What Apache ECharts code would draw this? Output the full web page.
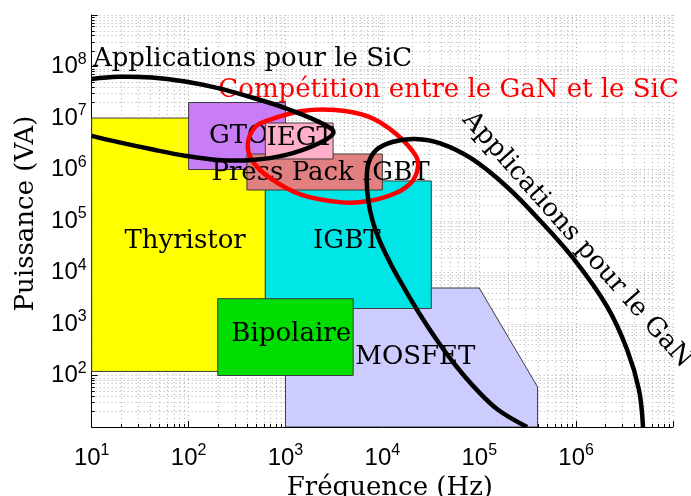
<!DOCTYPE html>
<html><head><meta charset="utf-8">
<script src="https://cdn.jsdelivr.net/npm/echarts@6/dist/echarts.min.js"></script>
<style>html,body{margin:0;padding:0;background:#fff}#c{width:691px;height:496px}</style>
</head><body><div id="c"></div>
<script>
// ---------- data ----------
const xTickExp = [1, 2, 3, 4, 5, 6];
const yTickExp = [2, 3, 4, 5, 6, 7, 8];

const deviceNames = ['Thyristor', 'MOSFET', 'IGBT', 'Bipolaire', 'GTO', 'Press Pack IGBT', 'IEGT'];
const thyristorArea = [[10, 120], [620, 120], [620, 1e7], [10, 1e7]];
const mosfetArea = [[1000, 10], [1000, 5000], [1e5, 5000], [4e5, 60], [4e5, 10]];
const igbtArea = [[620, 2000], [3.2e4, 2000], [3.2e4, 6e5], [620, 6e5]];
const bipolaireArea = [[200, 100], [5000, 100], [5000, 3100], [200, 3100]];
const gtoArea = [[100, 1e6], [1000, 1e6], [1000, 2e7], [100, 2e7]];
const pressPackArea = [[400, 4e5], [1e4, 4e5], [1e4, 2e6], [400, 2e6]];
const iegtArea = [[620, 1.6e6], [3100, 1.6e6], [3100, 8e6], [620, 8e6]];
const deviceAreas = [thyristorArea, mosfetArea, igbtArea, bipolaireArea, gtoArea, pressPackArea, iegtArea];
// label anchors (frequency, power)
const deviceLabelX = [92, 21900, 4300, 1146, 329, 2300, 1419];
const deviceLabelY = [4.13e4, 224, 3.96e4, 640, 4.34e6, 8.55e5, 4.09e6];

const annotationTexts = ['Applications pour le SiC', 'Compétition entre le GaN et le SiC', 'Applications pour le GaN'];
const annotationX = [10.3, 203, 1.02e6];
const annotationY = [1.37e8, 3.42e7, 4.28e4];

const sicCurve = [[10, 5.7e7], [18.7, 6.3e7], [41.7, 6.1e7], [92, 5.1e7], [202, 3.8e7], [450, 2.5e7], [993, 1.56e7],
  [2190, 8.5e6], [3130, 5.3e6], [2190, 3.2e6], [993, 1.9e6], [450, 1.53e6], [202, 1.53e6], [92, 1.85e6],
  [41.7, 2.47e6], [18.8, 3.4e6], [10, 4.5e6]];
const competitionCurve = [[3260, 1.43e7], [7200, 1.06e7], [13600, 5.05e6], [21900, 1.91e6], [23300, 1.13e6],
  [20200, 5.8e5], [13600, 3.45e5], [7200, 2.44e5], [3830, 2.3e5], [1476, 3.2e5], [667, 7.2e5], [450, 1.53e6],
  [409, 3.23e6], [486, 6.68e6], [667, 9.1e6], [1476, 1.37e7]];
const ganCurve = [[3.12e5, 10], [1.574e5, 21.4], [9.49e4, 52], [5.66e4, 160], [3.648e4, 489], [2.466e4, 1496],
  [1.726e4, 4570], [12360, 1.4e4], [9290, 4.28e4], [7870, 1.05e5],
  [7150, 2.56e5], [6900, 6.25e5], [7200, 1.34e6], [8650, 2.39e6], [12650, 3.42e6], [21900, 3.91e6],
  [39630, 3.2e6], [84300, 1.6e6], [1.94e5, 4.57e5], [4.28e5, 1.0e5], [9.45e5, 1.83e4], [2.09e6, 2170],
  [3.37e6, 313], [4.46e6, 52], [4.90e6, 10]];

// ---------- styles ----------
const deviceColors = ['#FFFF00', '#CCCCFF', '#00E6E6', '#00DD00', '#C87DF7', '#E08080', '#FFB0C8'];
const annotationColors = ['#000', '#FF0000', '#000'];
const annotationAlign = ['left', 'left', 'center'];
const annotationRot = [0, 0, -48.5];
const SERIF_FAMILY = 'DejaVu Serif';
const SERIF = '26px "DejaVu Serif"';
const GRID_COLOR = '#b4b4b4';
const gridLine = { type: [1, 3], color: GRID_COLOR, width: 1 };

// minor grid values (2..9 x 10^n)
const minorX = [], minorY = [];
for (let d = 1; d < 7; d++) for (let m = 2; m <= 9; m++) minorX.push(m * Math.pow(10, d));
for (let d = 1; d < 9; d++) for (let m = 2; m <= 9; m++) minorY.push(m * Math.pow(10, d));

const chart = echarts.init(document.getElementById('c'), null, { renderer: 'canvas' });

function tickFmt(list) {
  return function (v) {
    const e = Math.round(Math.log10(v));
    return list.indexOf(e) >= 0 ? '{b|10}{s|' + e + '}' : '';
  };
}
const tickRich = {
  b: { fontFamily: 'Liberation Sans', fontSize: 24, lineHeight: 30, color: '#000' },
  s: { fontFamily: 'Liberation Sans', fontSize: 16, lineHeight: 10, verticalAlign: 'top', color: '#000' }
};

function axisCommon() {
  return {
    type: 'log', logBase: 10,
    axisLine: { show: true, onZero: false, lineStyle: { color: '#000', width: 1 } },
    axisTick: { show: true, inside: true, length: 6, lineStyle: { color: '#000' } },
    minorTick: { show: false },
    splitLine: { show: true, lineStyle: gridLine },
    minorSplitLine: { show: false },
    nameLocation: 'middle'
  };
}

function curveSeries(points, color, closed, z) {
  return {
    type: 'custom', z: z, clip: true, silent: true,
    data: points, encode: { x: 0, y: 1 },
    renderItem: function (params, api) {
      if (params.dataIndex !== 0) return null;
      const pts = points.map(p => api.coord(p));
      return {
        type: closed ? 'polygon' : 'polyline',
        shape: { points: pts, smooth: 0.36 },
        style: { fill: closed ? 'none' : null, stroke: color, lineWidth: 4.5, lineJoin: 'round' }
      };
    }
  };
}

const option = {
  animation: false,
  backgroundColor: '#fff',
  grid: { left: 91.7, right: 18, top: 15, bottom: 69, containLabel: false, outerBoundsMode: 'none' },
  xAxis: Object.assign(axisCommon(), {
    min: 10, max: 1e7, splitNumber: 6,
    name: 'Fréquence (Hz)', nameGap: 38,
    nameTextStyle: { fontFamily: SERIF_FAMILY, fontSize: 26, color: '#000', padding: [0, 0, 0, 15] },
    axisLabel: { formatter: tickFmt(xTickExp), rich: tickRich, margin: 16 }
  }),
  yAxis: Object.assign(axisCommon(), {
    min: 10, max: 1e9, splitNumber: 8,
    name: 'Puissance (VA)', nameGap: 52, nameRotate: 90,
    nameTextStyle: { fontFamily: SERIF_FAMILY, fontSize: 26, color: '#000', padding: [0, 0, 0, 15] },
    axisLabel: { formatter: tickFmt(yTickExp), rich: tickRich, margin: 5 }
  }),
  series: [
    {
      type: 'custom', z: 1, clip: false, silent: true,
      data: [[10, 10]], encode: { x: 0, y: 1 },
      renderItem: function (params, api) {
        const kids = [];
        minorX.forEach(v => {
          const a = api.coord([v, 10]), b = api.coord([v, 1e9]);
          const x = Math.round(a[0]) + 0.5;
          kids.push({ type: 'line', shape: { x1: x, y1: a[1], x2: x, y2: b[1] },
            style: { stroke: GRID_COLOR, lineDash: [1, 3], lineWidth: 1 } });
          kids.push({ type: 'line', z2: 50, shape: { x1: x, y1: a[1], x2: x, y2: a[1] - 3 },
            style: { stroke: '#000', lineWidth: 1 } });
        });
        minorY.forEach(v => {
          const a = api.coord([10, v]), b = api.coord([1e7, v]);
          const y = Math.round(a[1]) + 0.5;
          kids.push({ type: 'line', shape: { x1: a[0], y1: y, x2: b[0], y2: y },
            style: { stroke: GRID_COLOR, lineDash: [1, 3], lineWidth: 1 } });
          kids.push({ type: 'line', z2: 50, shape: { x1: a[0], y1: y, x2: a[0] + 3, y2: y },
            style: { stroke: '#000', lineWidth: 1 } });
        });
        return { type: 'group', children: kids };
      }
    },
    {
      type: 'custom', z: 2, clip: true,
      data: deviceNames.map((n, i) => [deviceLabelX[i], deviceLabelY[i]]),
      encode: { x: 0, y: 1 },
      renderItem: function (params, api) {
        const i = params.dataIndex;
        const pts = deviceAreas[i].map(p => api.coord(p));
        const c = api.coord([deviceLabelX[i], deviceLabelY[i]]);
        return {
          type: 'group', children: [
            { type: 'polygon', z2: i * 10, shape: { points: pts },
              style: { fill: deviceColors[i], stroke: '#3c3c3c', lineWidth: 1 } },
            { type: 'text', z2: i * 10 + 5, x: c[0], y: c[1],
              style: { text: deviceNames[i], fill: '#000', font: SERIF, align: 'center', verticalAlign: 'middle' } }
          ]
        };
      }
    },
    {
      type: 'custom', z: 3, clip: false,
      data: annotationTexts.map((t, i) => [annotationX[i], annotationY[i]]),
      encode: { x: 0, y: 1 },
      renderItem: function (params, api) {
        const i = params.dataIndex;
        const c = api.coord([annotationX[i], annotationY[i]]);
        return {
          type: 'text', x: c[0], y: c[1], rotation: annotationRot[i] * Math.PI / 180,
          style: { text: annotationTexts[i], fill: annotationColors[i], font: SERIF,
                   align: annotationAlign[i], verticalAlign: 'middle' }
        };
      }
    },
    curveSeries(competitionCurve, '#FF0000', true, 4),
    curveSeries(sicCurve, '#000000', false, 5),
    curveSeries(ganCurve, '#000000', false, 5)
  ]
};
chart.setOption(option);
</script></body></html>
